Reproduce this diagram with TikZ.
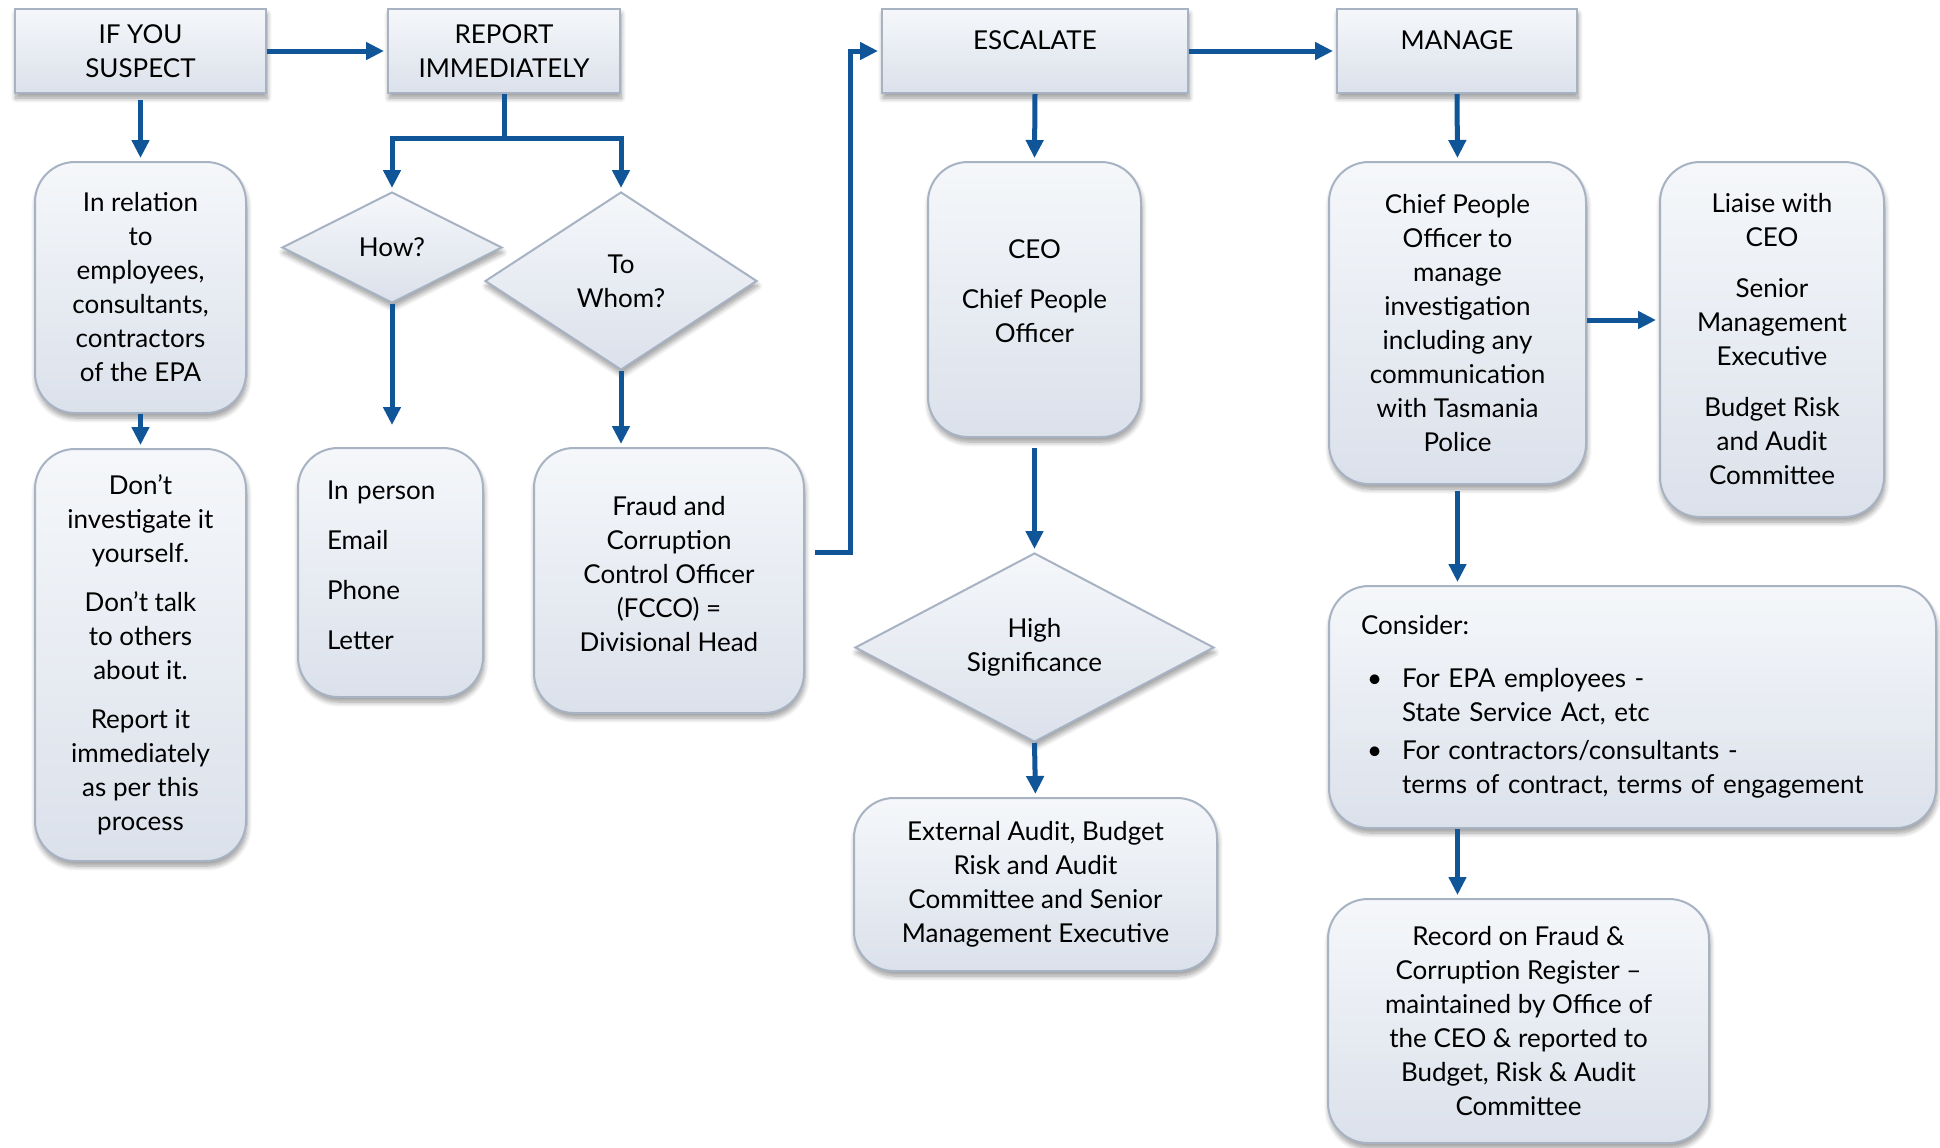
\documentclass[tikz,border=0pt]{standalone}
\usepackage{fontspec}
\setmainfont{Lato}
\usetikzlibrary{arrows.meta,shapes.geometric,shadows.blur,calc}
\definecolor{topc}{HTML}{F5F7FA}
\definecolor{botc}{HTML}{DBE1EB}
\definecolor{bordc}{HTML}{A7B2C3}
\definecolor{arrc}{HTML}{0F5597}
\newcommand{\fs}{\fontsize{13}{17}\selectfont}
\newcommand{\txup}[1]{\\[#1]\mbox{}}
\tikzset{
  box/.style={draw=bordc, line width=1pt, top color=topc, bottom color=botc,
    align=center, inner sep=0pt, font=\fs, text=black,
    blur shadow={shadow xshift=0.5pt, shadow yshift=-2.5pt, shadow blur radius=2.5pt, shadow blur steps=8, shadow opacity=40}},
  sqbox/.style={box},
  rbox/.style={box, rounded corners=20pt},
  dbox/.style={box, diamond},
  conn/.style={draw=arrc, line width=2.5pt, -{Triangle[length=9pt,width=8.5pt]}, shorten >=1.5pt},
  plain/.style={draw=arrc, line width=2.5pt}
}
\begin{document}
\begin{tikzpicture}[x=0.5pt,y=-0.5pt]
\path[use as bounding box] (0,0) rectangle (1940,1147);

% top row
\node[sqbox, minimum width=125.5pt, minimum height=42pt] (ifs) at (140.5,51) {IF YOU\\SUSPECT};
\node[sqbox, minimum width=116pt, minimum height=42pt] (rep) at (504,51) {REPORT\\IMMEDIATELY};
\node[sqbox, minimum width=153pt, minimum height=42pt, text height=9.5pt, text depth=11.5pt] (esc) at (1035,51) {ESCALATE};
\node[sqbox, minimum width=120pt, minimum height=42pt, text height=9.5pt, text depth=11.5pt] (man) at (1457,51) {MANAGE};

% column 1
\node[rbox, minimum width=105.5pt, minimum height=125.5pt] (rel) at (140.5,287.5)
  {In relation\\to\\employees,\\consultants,\\contractors\\of the EPA};
\node[rbox, minimum width=105.5pt, minimum height=206pt] (dont) at (140.5,655)
  {Don’t\\investigate it\\yourself.\\[7.5pt]Don’t talk\\to others\\about it.\\[7.5pt]Report it\\immediately\\as per this\\process};

% column 2
\node[dbox, minimum width=110pt, minimum height=55.5pt, aspect=2] (how) at (392,247.5) {How?};
\node[dbox, minimum width=136pt, minimum height=89pt, aspect=1.5] (whom) at (621,281) {To\\Whom?};
\node[rbox, minimum width=92.5pt, minimum height=124.5pt, align=left, text width=63.5pt, inner xsep=14.5pt] (inp) at (390.5,572.5)
  {In person\\[8pt]Email\\[8pt]Phone\\[8pt]Letter\txup{-10pt}};
\node[rbox, minimum width=135pt, minimum height=132.5pt] (fcco) at (669,580.5)
  {Fraud and\\Corruption\\Control Officer\\(FCCO) =\\Divisional Head\txup{-10pt}};

% column 3
\node[rbox, minimum width=106.5pt, minimum height=137.5pt] (ceo) at (1034.5,299.5)
  {CEO\\[8pt]Chief People\\Officer\txup{-9pt}};
\node[dbox, minimum width=179.5pt, minimum height=94.5pt, aspect=1.9] (hs) at (1034.5,647.5)
  {High\\Significance};
\node[rbox, minimum width=181.5pt, minimum height=86.5pt] (ext) at (1035.5,884.5)
  {External Audit, Budget\\Risk and Audit\\Committee and Senior\\Management Executive};

% column 4
\node[rbox, minimum width=128.5pt, minimum height=161pt] (cpo) at (1457.5,323)
  {Chief People\\Officer to\\manage\\investigation\\including any\\communication\\with Tasmania\\Police};
\node[rbox, minimum width=112pt, minimum height=177.5pt] (lia) at (1772,339.5)
  {Liaise with\\CEO\\[8.5pt]Senior\\Management\\Executive\\[8.5pt]Budget Risk\\and Audit\\Committee};
\node[rbox, minimum width=303.5pt, minimum height=121pt, align=left, text width=271.5pt, inner xsep=16pt] (con) at (1632.5,707)
  {Consider:\\[9.5pt]
   \hspace*{3pt}\makebox[17.5pt][l]{\textbullet}For EPA employees -\\
   \hspace*{20.5pt}State Service Act, etc\\[2pt]
   \hspace*{3pt}\makebox[17.5pt][l]{\textbullet}For contractors/consultants -\\
   \hspace*{20.5pt}terms of contract, terms of engagement};
\node[rbox, minimum width=190.5pt, minimum height=122pt] (rec) at (1518.5,1021)
  {Record on Fraud \&\\Corruption Register –\\maintained by Office of\\the CEO \& reported to\\Budget, Risk \& Audit\\Committee};

% connectors
\draw[conn] (ifs.east) -- (rep.west);
\draw[conn, shorten <=3pt] (ifs.south) -- (rel.north);
\draw[conn] (rel.south) -- (dont.north);
\coordinate (br) at ($(rep.south)+(0,44)$);
\draw[plain] (rep.south) -- (br);
\draw[conn] (br) -| (how.north);
\draw[conn] (br) -| (whom.north);
\draw[conn, shorten >=11pt] (how.south) -- (how.south |- inp.north);
\draw[conn] (whom.south) -- (whom.south |- fcco.north);
\draw[conn, shorten <=5pt] ([yshift=14pt]fcco.east) -- ++(45,0) |- (esc.west);
\draw[conn] (esc.east) -- (man.west);
\draw[conn] (esc.south) -- (ceo.north);
\draw[conn, shorten <=5pt] (ceo.south) -- (hs.north);
\draw[conn] (hs.south) -- (ext.north);
\draw[conn] (man.south) -- (cpo.north);
\draw[conn] ([yshift=1.5pt]cpo.east) -- ([yshift=1.5pt]cpo.east -| lia.west);
\draw[conn, shorten <=3pt] (cpo.south) -- (cpo.south |- con.north);
\draw[conn] (cpo.south |- con.south) -- (cpo.south |- rec.north);
\end{tikzpicture}
\end{document}
